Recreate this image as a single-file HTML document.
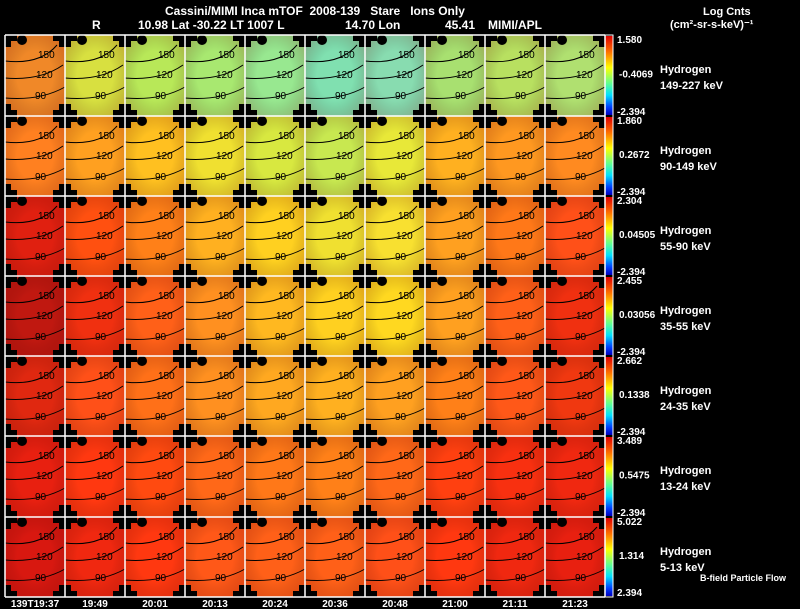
<!DOCTYPE html>
<html><head><meta charset="utf-8"><style>
body{margin:0;background:#000;width:800px;height:609px;overflow:hidden}
svg{display:block}
text{font-family:"Liberation Sans",sans-serif;white-space:pre}
</style></head><body>
<svg id="s" width="800" height="609" xmlns="http://www.w3.org/2000/svg">
<defs>
<linearGradient id="cb" x1="0" y1="0" x2="0" y2="1">
<stop offset="0" stop-color="#e00000"/><stop offset="0.2" stop-color="#ff7000"/><stop offset="0.4" stop-color="#ffff00"/><stop offset="0.6" stop-color="#60ff90"/><stop offset="0.75" stop-color="#00e0ff"/><stop offset="0.9" stop-color="#0040ff"/><stop offset="1" stop-color="#0000c0"/>
</linearGradient>
<radialGradient id="vig" cx="0.5" cy="0.5" r="0.6">
<stop offset="0.5" stop-color="#000" stop-opacity="0"/><stop offset="1" stop-color="#800000" stop-opacity="0.2"/>
</radialGradient>
</defs>
<g font-weight="bold" fill="#fff" font-size="12">
<text x="165" y="15" xml:space="preserve">Cassini/MIMI Inca mTOF  2008-139   Stare   Ions Only</text>
<text x="92" y="29">R</text>
<text x="138" y="29">10.98 Lat -30.22 LT 1007 L</text>
<text x="345" y="29">14.70 Lon</text>
<text x="445" y="29">45.41</text>
<text x="488" y="29">MIMI/APL</text>
<text x="703" y="15" font-size="11">Log Cnts</text>
<text x="670" y="28" font-size="11">(cm²-sr-s-keV)⁻¹</text>
</g>
<g id="g"></g>
</svg>
<script>
var rows=[["#f08828","#d8e040","#b8e858","#a8e870","#98e890","#80e0b0","#88dcb0","#a8e070","#b8e060","#b0e070"],
["#ff8020","#ffa020","#ffc020","#f0e030","#d8e840","#c8e850","#e8e838","#ffb020","#ff9820","#ff8a20"],
["#e02010","#ff5010","#ff8018","#ffb020","#ffd020","#f0e030","#f8e030","#ffa020","#ff7818","#ff5018"],
["#c01810","#f03010","#ff6018","#ff9020","#ffb820","#ffd020","#ffd820","#ffa020","#ff6018","#f03010"],
["#e02810","#ff5018","#ff7018","#ff9020","#ffa820","#ffb020","#ffa020","#ff8018","#ff5818","#f03810"],
["#e82010","#ff3810","#ff4a10","#ff6818","#ff7818","#ff8018","#ff6818","#ff4010","#f83010","#f02810"],
["#d81810","#f02810","#ff3810","#ff5818","#ff6018","#ff6018","#ff5018","#ff3810","#f02810","#e82010"]];
var tops=[35,116,196,276,356,436,517,597];
var cb=[["1.580","-0.4069","-2.394","149-227 keV"],["1.860","0.2672","-2.394","90-149 keV"],["2.304","0.04505","-2.394","55-90 keV"],["2.455","0.03056","-2.394","35-55 keV"],["2.662","0.1338","-2.394","24-35 keV"],["3.489","0.5475","-2.394","13-24 keV"],["5.022","1.314","2.394","5-13 keV"]];
var times=["139T19:37","19:49","20:01","20:13","20:24","20:36","20:48","21:00","21:11","21:23"];
var h="";
for(var r=0;r<7;r++){var y=tops[r],H=tops[r+1]-y;
for(var c=0;c<10;c++){var x=5+c*60;
h+='<rect x="'+x+'" y="'+y+'" width="60" height="'+H+'" fill="'+rows[r][c]+'"/>';
h+='<rect x="'+x+'" y="'+y+'" width="60" height="'+H+'" fill="url(#vig)"/>';
h+='<path d="M'+x+' '+y+'h12v6h-6v6h-6z M'+(x+60)+' '+y+'h-12v6h6v6h6z M'+x+' '+(y+H)+'h12v-6h-6v-6h-6z M'+(x+60)+' '+(y+H)+'h-12v-6h6v-6h6z" fill="#000"/>';
h+='<ellipse cx="'+(x+17)+'" cy="'+(y+5)+'" rx="5" ry="5" fill="#000"/>';
h+='<g fill="none" stroke="#000" stroke-width="1">';
h+='<path d="M'+(x)+' '+(y+26)+' Q'+(x+35)+' '+(y+30)+' '+(x+52)+' '+(y+10)+'"/>';
h+='<path d="M'+(x)+' '+(y+43)+' Q'+(x+35)+' '+(y+46)+' '+(x+58)+' '+(y+30)+'"/>';
h+='<path d="M'+(x)+' '+(y+63)+' Q'+(x+35)+' '+(y+66)+' '+(x+60)+' '+(y+52)+'"/>';
h+='</g><g font-size="10" fill="#000" font-family="Liberation Serif">';
h+='<text x="'+(x+33)+'" y="'+(y+23)+'">150</text><text x="'+(x+31)+'" y="'+(y+43)+'">120</text><text x="'+(x+30)+'" y="'+(y+64)+'">90</text></g>';
}
h+='<rect x="605" y="'+(y+1)+'" width="8" height="'+(H-2)+'" fill="url(#cb)"/>';
h+='<g fill="#fff" font-weight="bold" font-size="10"><text x="617" y="'+(y+8)+'">'+cb[r][0]+'</text><text x="619" y="'+(y+H/2+2)+'">'+cb[r][1]+'</text><text x="617" y="'+(y+H-1)+'">'+cb[r][2]+'</text>';
h+='<text x="660" y="'+(y+38)+'" font-size="11">Hydrogen</text><text x="660" y="'+(y+54)+'" font-size="11">'+cb[r][3]+'</text></g>';
}
for(var c=0;c<=10;c++)h+='<line x1="'+(5+c*60)+'" y1="35" x2="'+(5+c*60)+'" y2="597" stroke="#fff" stroke-width="1.5"/>';
for(var r=0;r<8;r++)h+='<line x1="5" y1="'+tops[r]+'" x2="605" y2="'+tops[r]+'" stroke="#fff" stroke-width="1.5"/>';
h+='<rect x="605" y="35" width="8" height="562" fill="none" stroke="#fff" stroke-width="1"/>';
for(var c=0;c<10;c++)h+='<text x="'+(35+c*60)+'" y="607" text-anchor="middle" fill="#fff" font-weight="bold" font-size="10">'+times[c]+'</text>';
h+='<text x="700" y="581" fill="#fff" font-size="9" font-weight="bold">B-field Particle Flow</text>';
document.getElementById("g").innerHTML=h;
</script>
</body></html>
